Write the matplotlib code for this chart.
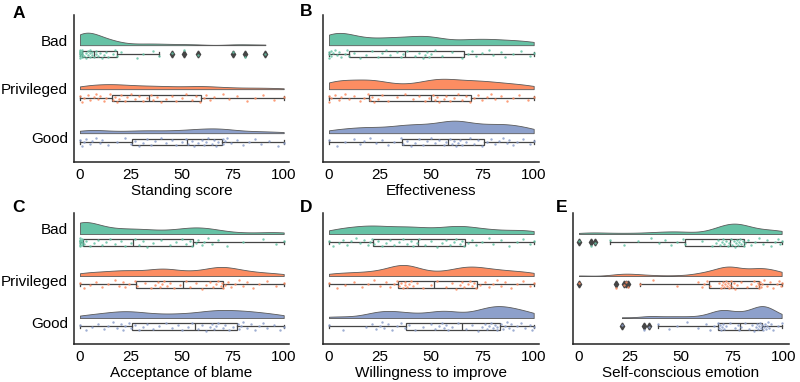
import numpy as np
import matplotlib
matplotlib.use("Agg")
import matplotlib.pyplot as plt

plt.rcParams['font.family'] = ['Liberation Sans', 'DejaVu Sans']

groups = ["Bad", "Privileged", "Good"]
colors = ["#66c2a5", "#fc8d62", "#8da0cb"]

# ---- A: Standing score ----
standing_bad = [0, 0, 0, 0, 0, 0, 0, 1, 1, 1, 1, 1, 2, 3, 3, 4, 4, 5, 5, 5, 6, 6,
                7, 8, 8, 9, 10, 11, 12, 13, 14, 16, 17, 18, 20, 28, 31, 36, 39,
                45, 51, 58, 75, 81, 91]
standing_priv = [0, 1, 2, 4, 5, 7, 8, 9, 10, 12, 13, 15,
                 16, 17, 18, 19, 20, 22, 23, 25, 27, 29, 31, 33,
                 35, 36, 38, 40, 42, 45, 47, 50, 52, 55, 57, 59,
                 61, 62, 64, 66, 70, 73, 77, 82, 86, 90, 95, 100]
standing_good = [0, 1, 2, 3, 5, 6, 8, 10, 11, 14, 18, 22, 25,
                 27, 29, 31, 33, 35, 37, 40, 42, 45, 47, 50, 52,
                 53, 55, 56, 58, 60, 61, 62, 63, 65, 66, 67, 68,
                 70, 70, 71, 72, 74, 77, 80, 83, 86, 89, 93, 97, 100]

# ---- B: Effectiveness ----
effect_bad = [0, 0, 0, 1, 1, 2, 3, 4, 5, 6, 8, 9,
              10, 12, 15, 18, 21, 24, 26, 28, 30, 33, 35, 36,
              38, 42, 44, 46, 47, 48, 49, 50, 52, 55, 60, 65,
              68, 70, 72, 75, 78, 80, 84, 86, 90, 94, 98, 100]
effect_priv = [0, 0, 1, 3, 5, 6, 8, 10, 12, 15, 17, 19,
               20, 21, 22, 24, 26, 29, 33, 37, 41, 44, 47, 49,
               51, 52, 53, 54, 56, 57, 59, 61, 63, 65, 67, 69,
               71, 73, 75, 77, 79, 81, 84, 87, 90, 93, 97, 100]
effect_good = [0, 4, 8, 12, 15, 17, 20, 23, 26, 29, 32, 35,
               36, 38, 40, 42, 44, 46, 48, 50, 52, 54, 56, 57,
               59, 60, 61, 62, 63, 64, 65, 67, 69, 71, 73, 75,
               77, 79, 81, 83, 85, 87, 88, 90, 92, 95, 98, 100]

# ---- C: Acceptance of blame ----
blame_bad = [0, 0, 0, 0, 0, 0, 0, 1, 1, 1, 1, 1,
             2, 3, 5, 7, 9, 11, 13, 15, 17, 20, 22, 25,
             27, 29, 31, 33, 36, 40, 44, 47, 50, 52, 54, 55,
             57, 58, 60, 61, 63, 65, 68, 72, 80, 90, 96, 100]
blame_priv = [0, 2, 5, 8, 11, 14, 17, 19, 21, 22, 24, 27,
              28, 32, 35, 37, 38.5, 39.5, 40.5, 41.5, 42.5, 44, 46, 49,
              52, 54, 57, 60, 62, 64, 65.5, 67, 68, 69, 69.5, 70,
              71, 72.5, 74, 76, 78, 80, 82, 85, 88, 92, 96, 100]
blame_good = [0, 3, 6, 9, 12, 14, 16, 18, 20, 21, 22, 24, 25,
              27, 29, 31, 33, 36, 39, 42, 45, 48, 50, 53, 55,
              58, 60, 62, 64, 65, 66, 67, 68, 70, 71, 73, 75,
              77.5, 78, 79, 80, 82, 84, 86, 88, 90, 92, 95, 98, 100]

# ---- D: Willingness to improve ----
improve_bad = [0, 2, 5, 7, 9, 11, 13, 15, 17, 19, 20, 21,
               22, 24, 26, 28, 30, 32, 34, 36, 38, 40, 41, 43,
               44, 47, 50, 53, 55, 57, 59, 61, 62, 64, 65, 66,
               68, 70, 72, 75, 78, 80, 84, 88, 92, 95, 98, 100]
improve_priv = [0, 4, 8, 12, 16, 19, 22, 25, 28, 30, 32, 33,
                34, 35, 36, 37, 37, 38, 39, 40, 41, 43, 46, 50,
                53, 57, 60, 62, 64, 65, 66, 68, 69, 70, 71, 72,
                74, 76, 78, 80, 82, 84, 86, 89, 92, 95, 98, 100]
improve_good = [0, 7, 18, 21, 23, 25, 26, 27, 29, 31, 33, 35, 37,
                39, 42, 46, 50, 52, 54, 55, 56, 57, 58, 60, 63,
                67, 70, 73, 75, 76, 77, 78, 79, 80, 81, 82, 82,
                84, 85, 86, 87, 88, 89, 90, 92, 94, 96, 98, 99, 100]

# ---- E: Self-conscious emotion ----
emotion_bad = [0, 6, 8, 15, 22, 29, 35, 39, 42, 45, 48, 51,
               52, 60, 65, 67, 68, 69, 70, 70.5, 71, 72, 73, 73.5,
               74.5, 75, 75.5, 76, 76.5, 77, 77.5, 78, 78.5, 79, 80, 80.5,
               81, 82.5, 84, 86, 88, 90, 92, 94, 96, 97, 98, 99]
emotion_priv = [0, 18, 22, 23, 24, 30, 36, 48, 58, 60, 61, 62.5,
                64, 68.5, 69.5, 70, 70.5, 71, 71.5, 72, 72.5, 73, 73.5, 74,
                74.5, 75, 75.5, 76, 77, 79, 82, 84, 85.5, 86.5, 87.5, 88,
                88, 88.5, 89, 89.5, 90.5, 92, 93.5, 95, 96.5, 97.5, 98.5, 99]
emotion_good = [21, 32, 34, 38.5, 44, 48, 53, 58, 62, 64, 66,
                68, 68.5, 69, 69.5, 70, 70.5, 71, 72, 74, 76, 77.5, 78,
                79, 81, 83, 84.5, 85.5, 86.5, 87, 87.5, 88, 88.5, 89,
                89.5, 90, 90.5, 91, 91.5, 92, 92.5, 93, 94, 95, 97, 99]

panels = [
    ("A", "Standing score", [standing_bad, standing_priv, standing_good]),
    ("B", "Effectiveness", [effect_bad, effect_priv, effect_good]),
    ("C", "Acceptance of blame", [blame_bad, blame_priv, blame_good]),
    ("D", "Willingness to improve", [improve_bad, improve_priv, improve_good]),
    ("E", "Self-conscious emotion", [emotion_bad, emotion_priv, emotion_good]),
]

# layout (pixel boxes: left, top, right, bottom)
W, H = 800, 382
boxes_px = {"A": (74, 15, 289, 162), "B": (323, 15, 539, 162),
            "C": (74, 213, 289, 344), "D": (323, 213, 539, 344),
            "E": (573, 213, 789, 344)}
ylims = {"A": (2.455, -0.886), "B": (2.455, -0.886),
         "C": (2.417, -0.70), "D": (2.417, -0.70), "E": (2.417, -0.70)}
label_offsets = {"A": [-0.31, -0.205, -0.10], "C": [-0.32, -0.09, -0.09]}
show_ylabels = {"A", "C"}

BW = 0.25
VIOLIN_MAX = 0.285
VIOLIN_OFF = 0.2
BOX_W = 0.15
JIT = 0.1
edge = "#454545"


def kde(vals, grid):
    v = np.asarray(vals, float)
    sd = BW * v.std(ddof=1)
    z = (grid[:, None] - v[None, :]) / sd
    return np.exp(-0.5 * z ** 2).sum(axis=1) / (len(v) * sd * np.sqrt(2 * np.pi))


fig = plt.figure(figsize=(8, 3.82), dpi=100)

for letter, xlabel, data in panels:
    l, t, r, b = boxes_px[letter]
    ax = fig.add_axes([l / W, 1 - b / H, (r - l) / W, (b - t) / H])
    grids, dens = [], []
    for vals in data:
        g = np.linspace(min(vals), max(vals), 300)
        grids.append(g)
        dens.append(kde(vals, g))
    k = VIOLIN_MAX / max(d.max() for d in dens)
    for i, vals in enumerate(data):
        base = i - VIOLIN_OFF
        ax.fill_between(grids[i], base, base - dens[i] * k, facecolor=colors[i],
                        edgecolor="#5a5a5a", linewidth=0.6, zorder=1)
        ax.boxplot(vals, positions=[i], widths=BOX_W, vert=False, whis=1.5,
                   patch_artist=True, manage_ticks=False,
                   boxprops=dict(facecolor="none", edgecolor=edge, linewidth=0.9),
                   medianprops=dict(color=edge, linewidth=0.9),
                   whiskerprops=dict(color=edge, linewidth=0.9),
                   capprops=dict(color=edge, linewidth=0.9),
                   flierprops=dict(marker="d", markerfacecolor=edge, markeredgecolor=edge,
                                   markersize=3.5), zorder=2)
        n = len(vals)
        jit = ((np.arange(n) * 0.618034 + 0.3) % 1 - 0.5) * 2 * JIT
        ax.scatter(vals, i + jit, s=3, color=colors[i], alpha=0.85,
                   linewidths=0, zorder=3)
    ax.set_xlim(-2.9, 102.6)
    ax.set_ylim(*ylims[letter])
    ax.set_xticks([0, 25, 50, 75, 100])
    ax.tick_params(axis="both", length=0, labelsize=11, pad=4.5)
    if letter in show_ylabels:
        ax.set_yticks([i + o for i, o in enumerate(label_offsets[letter])])
        ax.set_yticklabels(groups, fontsize=11)
    else:
        ax.set_yticks([])
    ax.set_xlabel(xlabel, fontsize=11, labelpad=1)
    for s in ["top", "right"]:
        ax.spines[s].set_visible(False)
    for s in ["left", "bottom"]:
        ax.spines[s].set_linewidth(1.1)
        ax.spines[s].set_color("#222222")

letters_px = {"A": (19, 13), "B": (306, 11.5), "C": (18.5, 207), "D": (306, 207), "E": (562, 207)}
for letter, (x, y) in letters_px.items():
    fig.text(x / W, 1 - y / H, letter, fontsize=12.5, fontweight="bold",
             ha="center", va="center")

fig.savefig("out.png", dpi=100)
